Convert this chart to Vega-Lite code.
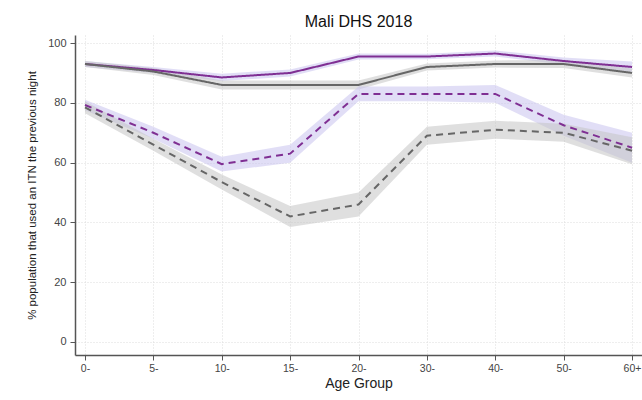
{
  "$schema": "https://vega.github.io/schema/vega-lite/v6.json",
  "autosize": "none",
  "width": 567,
  "height": 320,
  "padding": {"left": 75, "top": 35, "right": 0, "bottom": 45},
  "background": "white",
  "title": {"text": "Mali DHS 2018", "font": "Liberation Sans", "fontSize": 16, "fontWeight": "normal", "color": "#111", "anchor": "middle", "offset": 5},
  "config": {"view": {"stroke": null}},
  "data": {"values": [
    {"age": "0-", "grp": "Group A", "measure": "Measure 1", "v": 93, "lo": 92, "hi": 94},
    {"age": "5-", "grp": "Group A", "measure": "Measure 1", "v": 91, "lo": 90, "hi": 92},
    {"age": "10-", "grp": "Group A", "measure": "Measure 1", "v": 88.5, "lo": 87.3, "hi": 89.7},
    {"age": "15-", "grp": "Group A", "measure": "Measure 1", "v": 90, "lo": 88.8, "hi": 91.2},
    {"age": "20-", "grp": "Group A", "measure": "Measure 1", "v": 95.5, "lo": 94.5, "hi": 96.5},
    {"age": "30-", "grp": "Group A", "measure": "Measure 1", "v": 95.5, "lo": 94.6, "hi": 96.4},
    {"age": "40-", "grp": "Group A", "measure": "Measure 1", "v": 96.5, "lo": 95.5, "hi": 97.5},
    {"age": "50-", "grp": "Group A", "measure": "Measure 1", "v": 94, "lo": 92.8, "hi": 95.2},
    {"age": "60+", "grp": "Group A", "measure": "Measure 1", "v": 92, "lo": 90.2, "hi": 93.8},
    {"age": "0-", "grp": "Group B", "measure": "Measure 1", "v": 93, "lo": 92, "hi": 94},
    {"age": "5-", "grp": "Group B", "measure": "Measure 1", "v": 90.5, "lo": 89.3, "hi": 91.7},
    {"age": "10-", "grp": "Group B", "measure": "Measure 1", "v": 86, "lo": 84.5, "hi": 87.5},
    {"age": "15-", "grp": "Group B", "measure": "Measure 1", "v": 86, "lo": 84.5, "hi": 87.5},
    {"age": "20-", "grp": "Group B", "measure": "Measure 1", "v": 86, "lo": 84.5, "hi": 87.5},
    {"age": "30-", "grp": "Group B", "measure": "Measure 1", "v": 92, "lo": 90.8, "hi": 93.2},
    {"age": "40-", "grp": "Group B", "measure": "Measure 1", "v": 93, "lo": 91.8, "hi": 94.2},
    {"age": "50-", "grp": "Group B", "measure": "Measure 1", "v": 93, "lo": 91.7, "hi": 94.3},
    {"age": "60+", "grp": "Group B", "measure": "Measure 1", "v": 90, "lo": 88.5, "hi": 91.5},
    {"age": "0-", "grp": "Group A", "measure": "Measure 2", "v": 79.3, "lo": 77.5, "hi": 81},
    {"age": "5-", "grp": "Group A", "measure": "Measure 2", "v": 70, "lo": 68, "hi": 72},
    {"age": "10-", "grp": "Group A", "measure": "Measure 2", "v": 59.5, "lo": 57, "hi": 62},
    {"age": "15-", "grp": "Group A", "measure": "Measure 2", "v": 63, "lo": 60, "hi": 66},
    {"age": "20-", "grp": "Group A", "measure": "Measure 2", "v": 83, "lo": 80.5, "hi": 85.5},
    {"age": "30-", "grp": "Group A", "measure": "Measure 2", "v": 83, "lo": 80.5, "hi": 85.5},
    {"age": "40-", "grp": "Group A", "measure": "Measure 2", "v": 83, "lo": 80, "hi": 86},
    {"age": "50-", "grp": "Group A", "measure": "Measure 2", "v": 72.5, "lo": 69, "hi": 76},
    {"age": "60+", "grp": "Group A", "measure": "Measure 2", "v": 65, "lo": 60, "hi": 70},
    {"age": "0-", "grp": "Group B", "measure": "Measure 2", "v": 78.5, "lo": 76.5, "hi": 80.5},
    {"age": "5-", "grp": "Group B", "measure": "Measure 2", "v": 66, "lo": 64, "hi": 68},
    {"age": "10-", "grp": "Group B", "measure": "Measure 2", "v": 53.5, "lo": 51, "hi": 56},
    {"age": "15-", "grp": "Group B", "measure": "Measure 2", "v": 42, "lo": 38.5, "hi": 45.5},
    {"age": "20-", "grp": "Group B", "measure": "Measure 2", "v": 46, "lo": 42, "hi": 50},
    {"age": "30-", "grp": "Group B", "measure": "Measure 2", "v": 69, "lo": 66, "hi": 72},
    {"age": "40-", "grp": "Group B", "measure": "Measure 2", "v": 71, "lo": 68, "hi": 74},
    {"age": "50-", "grp": "Group B", "measure": "Measure 2", "v": 70, "lo": 67, "hi": 73},
    {"age": "60+", "grp": "Group B", "measure": "Measure 2", "v": 64, "lo": 59.5, "hi": 68.5}
  ]},
  "encoding": {
    "x": {
      "field": "age", "type": "ordinal",
      "sort": ["0-", "5-", "10-", "15-", "20-", "30-", "40-", "50-", "60+"],
      "scale": {"type": "point", "padding": 0.146},
      "axis": {
        "title": "Age Group", "titleFont": "Liberation Sans", "titleFontSize": 14, "titleFontWeight": "normal", "titleColor": "#222", "titlePadding": 3,
        "labelAngle": 0, "labelFont": "Liberation Sans", "labelFontSize": 10.5, "labelColor": "#444", "labelPadding": 3,
        "domainColor": "#555", "domainWidth": 1.5, "tickColor": "#555", "tickSize": 5, "tickWidth": 1,
        "grid": true, "gridColor": "#dcdcdc", "gridDash": [1, 2], "gridWidth": 1
      }
    }
  },
  "layer": [
    {
      "mark": {"type": "area", "opacity": 0.55},
      "encoding": {
        "y": {"field": "lo", "type": "quantitative", "scale": {"domain": [-4.35, 102.7], "nice": false, "zero": false},
          "axis": {
            "title": "% population that used an ITN the previous night", "titleFont": "Liberation Sans", "titleFontSize": 11.5, "titleFontWeight": "normal", "titleColor": "#222", "titlePadding": 10,
            "values": [0, 20, 40, 60, 80, 100], "labelFont": "Liberation Sans", "labelFontSize": 11, "labelColor": "#444", "labelPadding": 4,
            "domainColor": "#555", "domainWidth": 1.5, "tickColor": "#555", "tickSize": 5,
            "grid": true, "gridColor": "#dcdcdc", "gridDash": [1, 2], "gridWidth": 1
          }},
        "y2": {"field": "hi"},
        "color": {"field": "grp", "type": "nominal", "scale": {"domain": ["Group A", "Group B"], "range": ["#c9c3ee", "#c4c4c4"]}, "legend": null},
        "detail": {"field": "measure"}
      }
    },
    {
      "mark": {"type": "line", "strokeWidth": 2},
      "encoding": {
        "y": {"field": "v", "type": "quantitative"},
        "color": {"field": "grp", "type": "nominal", "scale": {"domain": ["Group A", "Group B"], "range": ["#7f2f93", "#666666"]}, "legend": null},
        "strokeDash": {"field": "measure", "type": "nominal", "scale": {"domain": ["Measure 1", "Measure 2"], "range": [[1, 0], [7, 5]]}, "legend": null}
      }
    }
  ],
  "resolve": {"scale": {"color": "independent"}}
}
